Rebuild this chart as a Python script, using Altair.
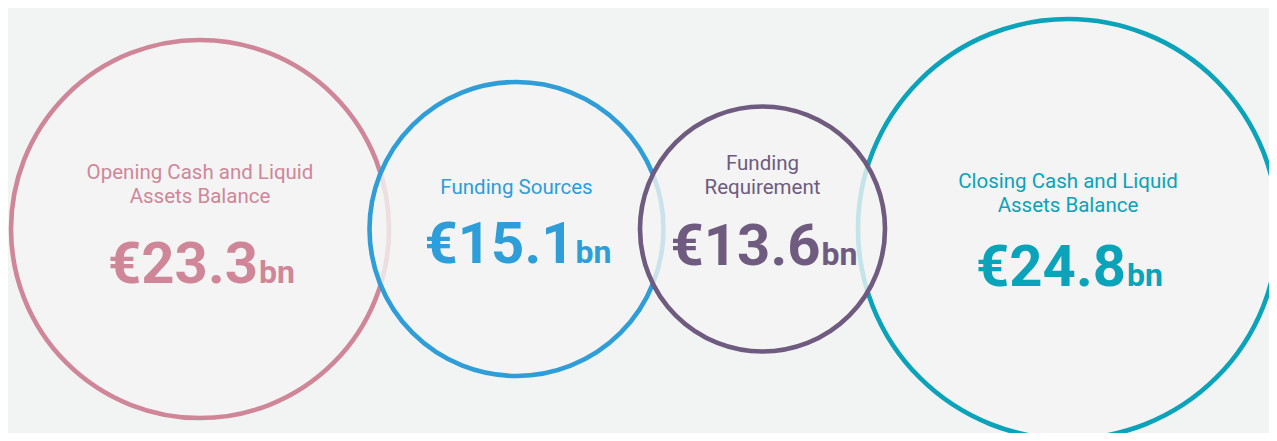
import altair as alt
import pandas as pd

# ---- data ----
categories = [
    "Opening Cash and Liquid Assets Balance",
    "Funding Sources",
    "Funding Requirement",
    "Closing Cash and Liquid Assets Balance",
]
label_lines = [
    "Opening Cash and Liquid\nAssets Balance",
    "Funding Sources",
    "Funding\nRequirement",
    "Closing Cash and Liquid\nAssets Balance",
]
values_bn = [23.3, 15.1, 13.6, 24.8]
unit = "bn"

# ---- styling ----
colors = ["#d08699", "#2e9dd8", "#6f5b7f", "#0aa3ba"]
bg = "#f2f4f3"
centers_x = [192, 508.5, 754.5, 1060]          # pixel layout of the four circles
center_y = 221
radii = [189, 147, 122.5, 210]                 # circle radii (px), matched to values
label_y = [171, 186, 162, 180]                 # first-line baseline of labels
number_y = [275, 255, 257, 278]                # baseline of the big number
W, H = 1261, 425

df = pd.DataFrame({
    "category": categories,
    "label": label_lines,
    "value": values_bn,
    "idx": list(range(len(categories))),
})
df["num"] = ["€%.1f" % v for v in values_bn]
df["unit"] = unit

order_vals = sorted(values_bn)
size_range = [(2 * radii[values_bn.index(v)]) ** 2 for v in order_vals]

idx_dom = list(range(len(categories)))
xscale = alt.Scale(domain=idx_dom, range=centers_x, zero=False, nice=False)
color_scale = alt.Scale(domain=categories, range=colors)

base = alt.Chart(df)

circles = base.mark_circle(
    fill=bg, fillOpacity=0.8, opacity=1, strokeOpacity=1, strokeWidth=4.6
).encode(
    x=alt.X("idx:Q", scale=xscale, axis=None),
    y=alt.value(center_y),
    size=alt.Size("value:Q", scale=alt.Scale(domain=order_vals, range=size_range), legend=None),
    stroke=alt.Stroke("category:N", scale=color_scale, legend=None),
    order=alt.Order("value:Q", sort="descending"),
)

labels = base.mark_text(
    font="Roboto", fontSize=20.5, align="center", baseline="alphabetic",
    lineBreak="\n", lineHeight=24,
).encode(
    x=alt.X("idx:Q", scale=xscale, axis=None),
    y=alt.Y("idx:Q", scale=alt.Scale(domain=idx_dom, range=label_y, zero=False, nice=False), axis=None),
    text="label:N",
    color=alt.Color("category:N", scale=color_scale, legend=None),
)

numbers = base.mark_text(
    font="Roboto", fontSize=58, fontWeight="bold", align="right", baseline="alphabetic", dx=58,
).encode(
    x=alt.X("idx:Q", scale=xscale, axis=None),
    y=alt.Y("idx:Q", scale=alt.Scale(domain=idx_dom, range=number_y, zero=False, nice=False), axis=None),
    text="num:N",
    color=alt.Color("category:N", scale=color_scale, legend=None),
)

units = base.mark_text(
    font="Roboto", fontSize=32, fontWeight="bold", align="left", baseline="alphabetic", dx=59,
).encode(
    x=alt.X("idx:Q", scale=xscale, axis=None),
    y=alt.Y("idx:Q", scale=alt.Scale(domain=idx_dom, range=number_y, zero=False, nice=False), axis=None),
    text="unit:N",
    color=alt.Color("category:N", scale=color_scale, legend=None),
)

texts = alt.layer(labels, alt.layer(numbers, units)).resolve_scale(y="independent")

chart = alt.layer(circles, texts).resolve_scale(y="independent").properties(
    width=W, height=H, autosize=alt.AutoSizeParams(type="none"), padding=0,
).configure(background=bg).configure_view(stroke=None)

chart.save("out.html", embed_options={"renderer": "svg", "actions": False})
